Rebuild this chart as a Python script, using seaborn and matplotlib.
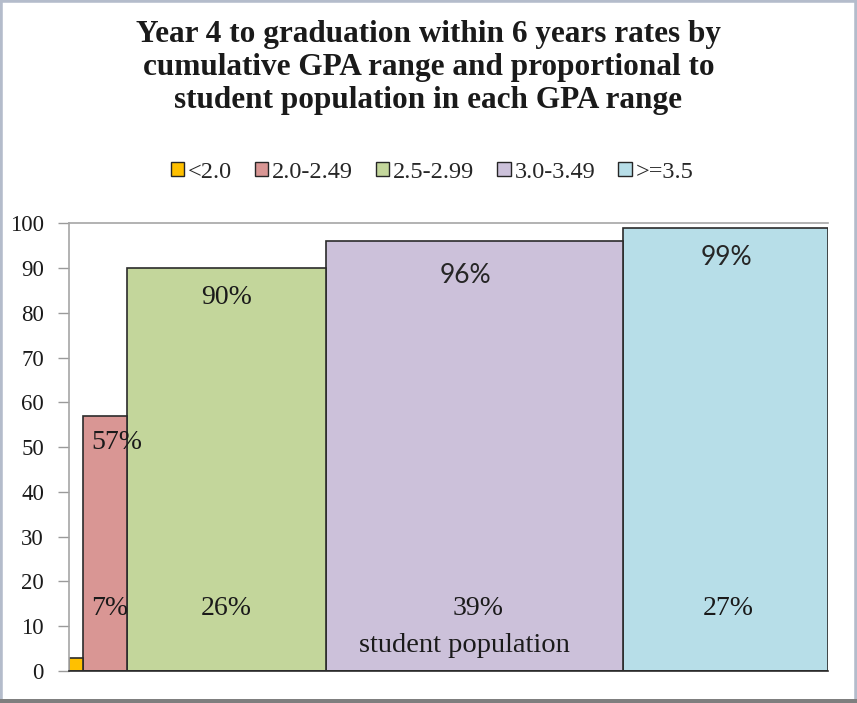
import numpy as np
import pandas as pd
import matplotlib.pyplot as plt
import seaborn as sns
from matplotlib.patches import Rectangle

# data
gpa_ranges = ["<2.0", "2.0-2.49", "2.5-2.99", "3.0-3.49", ">=3.5"]
grad_rate = [3, 57, 90, 96, 99]            # % graduating within 6 years
pop_share = [1.8, 5.9, 26.1, 39.1, 27.0]   # share of students (bar widths)
rate_labels = ["", "57%", "90%", "96%", "99%"]
pop_labels = ["", "7%", "26%", "39%", "27%"]
colors = ["#FFC000", "#D99694", "#C3D69B", "#CCC1DA", "#B7DEE8"]

edges = np.concatenate([[0], np.cumsum(pop_share)])
centers = (edges[:-1] + edges[1:]) / 2

df = pd.DataFrame({"gpa": gpa_ranges, "center": centers, "rate": grad_rate})

sns.set_style("white")
plt.rcParams["font.family"] = ["Liberation Serif", "DejaVu Serif"]

fig = plt.figure(figsize=(8.57, 7.03), dpi=100)
ax = fig.add_axes([0.0805, 0.0455, 0.8855, 0.637])

sns.histplot(data=df, x="center", weights="rate", bins=edges.tolist(), hue="gpa",
             hue_order=gpa_ranges, palette=colors, multiple="layer",
             alpha=1, edgecolor="#2b2b2b", linewidth=1.2, ax=ax)

ax.set_xlim(edges[0], edges[-1])
ax.set_ylim(0, 100)
ax.set_yticks(range(0, 101, 10))
ax.set_xticks([])
ax.set_xlabel("")
ax.set_ylabel("")
ax.tick_params(axis="y", labelsize=16.5, length=8, width=1, color="#9a9a9a",
               direction="out", pad=10, left=True, labelcolor="#1a1a1a")
for s in ["left", "top"]:
    ax.spines[s].set_color("#a6a6a6")
    ax.spines[s].set_linewidth(1.2)
ax.spines["right"].set_visible(False)
ax.spines["bottom"].set_color("#2b2b2b")
ax.spines["bottom"].set_linewidth(1.2)

# graduation rate labels
rate_pos = [None, (1.1, 51), (centers[2], 83.5), (centers[3] - 1.2, 88.4),
            (centers[4] + 0.2, 92.4)]
for i, lab in enumerate(rate_labels):
    if not lab:
        continue
    x, y = rate_pos[i]
    if i >= 3:
        ax.text(x, y, lab, ha="center", va="center", fontsize=19,
                family=["Lato", "DejaVu Sans"], color="#262626")
    elif i == 1:
        ax.text(edges[1] + x, y, lab, ha="left", va="center", fontsize=20,
                color="#1a1a1a")
    else:
        ax.text(x, y, lab, ha="center", va="center", fontsize=20,
                color="#1a1a1a")

# population share labels
pop_shift = [0, 0.6, 0, 0.5, 0.4]
for i, lab in enumerate(pop_labels):
    if not lab:
        continue
    ax.text(centers[i] + pop_shift[i], 14, lab, ha="center", va="center",
            fontsize=20, color="#1a1a1a")
ax.text(centers[3] - 1.3, 5.8, "student population", ha="center", va="center",
        fontsize=20.5, color="#1a1a1a")

fig.text(0.5, 0.904, "Year 4 to graduation within 6 years rates by\n"
         "cumulative GPA range and proportional to\n"
         "student population in each GPA range",
         ha="center", va="center", fontsize=22.5, fontweight="bold",
         linespacing=1.2, color="#1a1a1a")

sns.move_legend(ax, "center", bbox_to_anchor=(0.504, 0.755),
                bbox_transform=fig.transFigure, ncol=5, frameon=False,
                title=None, fontsize=17.5, handlelength=0.55, handleheight=0.55,
                handletextpad=0.15, columnspacing=0.95)
for h in ax.get_legend().legend_handles:
    h.set_edgecolor("#262626")
    h.set_linewidth(1)

# picture frame
fig.patches.append(Rectangle((0, 0), 1, 1, transform=fig.transFigure,
                             fill=False, edgecolor="#b4bccb", linewidth=4))
fig.patches.append(Rectangle((0, 0), 1, 0.006, transform=fig.transFigure,
                             facecolor="#7f7f7f", edgecolor="none"))

fig.savefig("out.png", dpi=100)
